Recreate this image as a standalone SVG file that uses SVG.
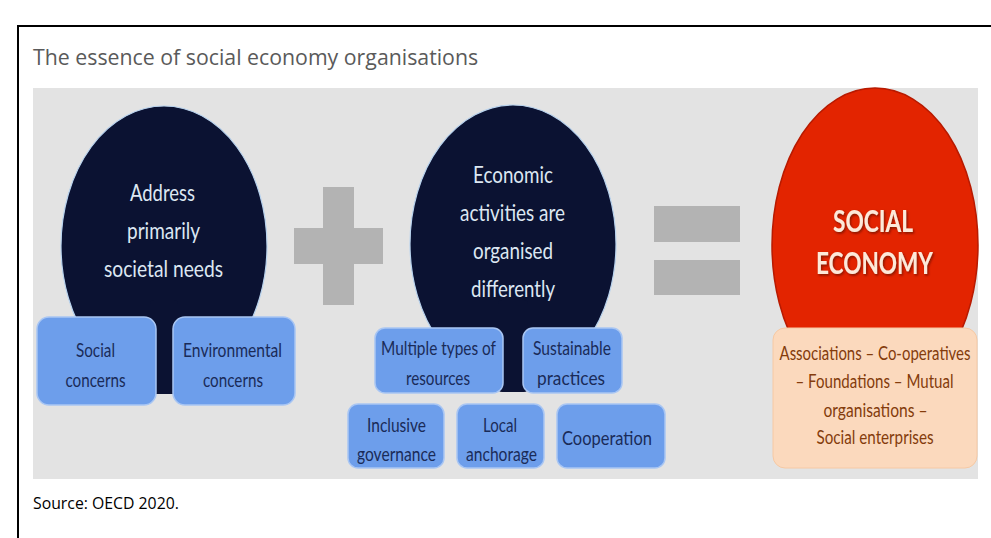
<svg xmlns="http://www.w3.org/2000/svg" width="991" height="538" viewBox="0 0 991 538">
<defs>
  <filter id="sh" x="-10%" y="-10%" width="130%" height="140%">
    <feDropShadow dx="1.2" dy="1.5" stdDeviation="0.8" flood-color="#5a0a00" flood-opacity="0.7"/>
  </filter>
</defs>
<style>
  .frame{fill:none;stroke:#000;stroke-width:2}
  .title{font-family:"Open Sans","Noto Sans","Liberation Sans",sans-serif;font-size:21.3px;fill:#5a5a5a}
  .src{font-family:"Open Sans","Noto Sans","Liberation Sans",sans-serif;font-size:15.8px;fill:#000}
  .dark{fill:#0b1232;stroke:#b9d3ee;stroke-width:1.2}
  .stem{fill:#0b1232}
  .op{fill:#b3b3b3}
  .box{fill:#6d9eeb;stroke:#a9c6f3;stroke-width:1.5}
  .lbl{font-family:Lato,"Liberation Sans",sans-serif;font-size:19px;fill:#1a2b58;text-anchor:middle}
  .big{font-family:Lato,"Liberation Sans",sans-serif;font-size:23px;fill:#dde7f2;text-anchor:middle}
  .red{fill:#e32400;stroke:#b81a00;stroke-width:1.5}
  .se{font-family:Lato,"Liberation Sans",sans-serif;font-size:30px;font-weight:bold;fill:#fde9d9;text-anchor:middle;filter:url(#sh)}
  .peach{fill:#fbd9bd;stroke:#f6c9a4;stroke-width:1}
  .pt{font-family:Lato,"Liberation Sans",sans-serif;font-size:18.5px;fill:#843c0c;text-anchor:middle}
</style>
<rect x="0" y="0" width="991" height="538" fill="#fff"/>
<path class="frame" d="M18,538 V26 H991"/>
<text class="title" x="33" y="65">The essence of social economy organisations</text>
<rect x="33" y="88" width="945" height="391" fill="#e3e3e3"/>

<g id="node-societal">
  <ellipse class="dark" cx="164" cy="246" rx="103" ry="140"/>
  <rect class="stem" x="150" y="300" width="28" height="94" rx="4"/>
  <text class="big" x="162.5" y="201" textLength="65" lengthAdjust="spacingAndGlyphs">Address</text>
  <text class="big" x="163.5" y="239" textLength="73" lengthAdjust="spacingAndGlyphs">primarily</text>
  <text class="big" x="163.5" y="277" textLength="119" lengthAdjust="spacingAndGlyphs">societal needs</text>
</g>
<g id="node-social-concerns">
  <rect class="box" x="37" y="317" width="119" height="88" rx="12"/>
  <text class="lbl" x="95.5" y="357" textLength="39" lengthAdjust="spacingAndGlyphs">Social</text>
  <text class="lbl" x="95.5" y="387" textLength="60" lengthAdjust="spacingAndGlyphs">concerns</text>
</g>
<g id="node-env-concerns">
  <rect class="box" x="173" y="317" width="122" height="88" rx="12"/>
  <text class="lbl" x="232.5" y="357" textLength="99" lengthAdjust="spacingAndGlyphs">Environmental</text>
  <text class="lbl" x="233" y="387" textLength="60" lengthAdjust="spacingAndGlyphs">concerns</text>
</g>

<g id="plus">
  <rect class="op" x="323" y="187" width="31" height="118"/>
  <rect class="op" x="294" y="228" width="89" height="36"/>
</g>

<g id="node-economic">
  <ellipse class="dark" cx="513" cy="244" rx="103" ry="139"/>
  <rect class="stem" x="498" y="300" width="30" height="92" rx="4"/>
  <text class="big" x="513" y="183" textLength="80" lengthAdjust="spacingAndGlyphs">Economic</text>
  <text class="big" x="512.5" y="221" textLength="105" lengthAdjust="spacingAndGlyphs">activities are</text>
  <text class="big" x="513" y="259" textLength="80" lengthAdjust="spacingAndGlyphs">organised</text>
  <text class="big" x="513" y="297" textLength="84" lengthAdjust="spacingAndGlyphs">differently</text>
</g>
<g id="node-multiple">
  <rect class="box" x="375" y="328" width="128" height="65" rx="10"/>
  <text class="lbl" x="438.5" y="355" textLength="115" lengthAdjust="spacingAndGlyphs">Multiple types of</text>
  <text class="lbl" x="438" y="385" textLength="64" lengthAdjust="spacingAndGlyphs">resources</text>
</g>
<g id="node-sustainable">
  <rect class="box" x="523" y="328" width="99" height="65" rx="10"/>
  <text class="lbl" x="572" y="355" textLength="78" lengthAdjust="spacingAndGlyphs">Sustainable</text>
  <text class="lbl" x="571" y="385" textLength="68" lengthAdjust="spacingAndGlyphs">practices</text>
</g>
<g id="node-inclusive">
  <rect class="box" x="348" y="404" width="96" height="64" rx="10"/>
  <text class="lbl" x="396.5" y="432" textLength="59" lengthAdjust="spacingAndGlyphs">Inclusive</text>
  <text class="lbl" x="396.5" y="461" textLength="79" lengthAdjust="spacingAndGlyphs">governance</text>
</g>
<g id="node-local">
  <rect class="box" x="457" y="404" width="87" height="64" rx="10"/>
  <text class="lbl" x="500" y="432" textLength="34" lengthAdjust="spacingAndGlyphs">Local</text>
  <text class="lbl" x="501.5" y="461" textLength="71" lengthAdjust="spacingAndGlyphs">anchorage</text>
</g>
<g id="node-cooperation">
  <rect class="box" x="557" y="404" width="108" height="64" rx="10"/>
  <text class="lbl" x="607" y="445" textLength="90" lengthAdjust="spacingAndGlyphs">Cooperation</text>
</g>

<g id="equals">
  <rect class="op" x="654" y="206" width="86" height="36"/>
  <rect class="op" x="654" y="260" width="86" height="35"/>
</g>

<g id="node-social-economy">
  <ellipse class="red" cx="875" cy="245" rx="103" ry="157"/>
  <text class="se" x="873" y="232" textLength="80" lengthAdjust="spacingAndGlyphs">SOCIAL</text>
  <text class="se" x="874.5" y="274" textLength="117" lengthAdjust="spacingAndGlyphs">ECONOMY</text>
</g>
<g id="node-forms">
  <rect class="peach" x="773" y="328" width="204" height="140" rx="12"/>
  <text class="pt" x="875" y="360" textLength="191" lengthAdjust="spacingAndGlyphs">Associations – Co-operatives</text>
  <text class="pt" x="874.5" y="388" textLength="158" lengthAdjust="spacingAndGlyphs">– Foundations – Mutual</text>
  <text class="pt" x="875.5" y="417" textLength="104" lengthAdjust="spacingAndGlyphs">organisations –</text>
  <text class="pt" x="875" y="444" textLength="117" lengthAdjust="spacingAndGlyphs">Social enterprises</text>
</g>

<g id="connectors"></g>

<text class="src" x="33" y="509">Source: OECD 2020.</text>
</svg>
